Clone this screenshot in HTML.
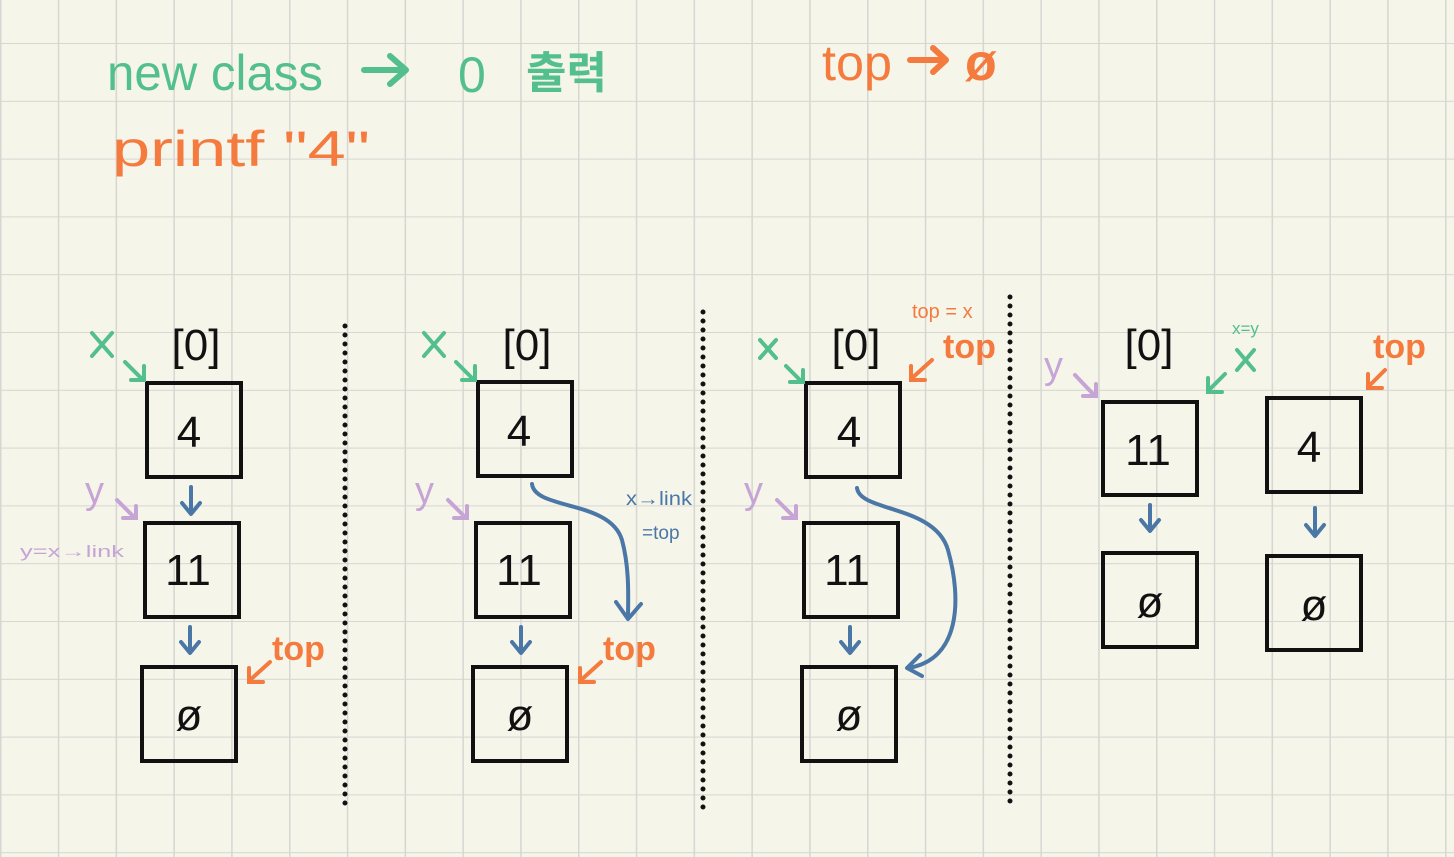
<!DOCTYPE html>
<html><head><meta charset="utf-8"><style>
html,body{margin:0;padding:0;background:#f6f5ea;}
svg{display:block}
text{font-family:"Liberation Sans","Noto Sans CJK KR",sans-serif;}
</style></head><body>
<svg width="1454" height="857" viewBox="0 0 1454 857" xmlns="http://www.w3.org/2000/svg">
<defs>
<pattern id="g" x="0" y="43" width="57.8" height="57.8" patternUnits="userSpaceOnUse">
<path d="M0 0H57.8M0 0V57.8" stroke="#d6d6d2" stroke-width="2" fill="none" transform="translate(0.5,0)"/>
</pattern>
</defs>
<rect width="1454" height="857" fill="#f6f5ea"/>
<rect x="0" y="0" width="1454" height="857" fill="url(#g)"/>

<!-- header -->
<text x="107" y="90" font-size="50" fill="#52bf8c" textLength="216" lengthAdjust="spacingAndGlyphs">new class</text>
<g fill="none" stroke="#52bf8c" stroke-width="6" stroke-linecap="round" stroke-linejoin="round"><path d="M364 70H404M390 56L406 70L390 84"/></g>
<text x="458" y="92" font-size="50" fill="#52bf8c">0</text>
<text x="526" y="88" font-size="44" fill="#52bf8c" font-weight="bold">출력</text>
<text x="112" y="166" font-size="50" fill="#f47a3e" textLength="258" lengthAdjust="spacingAndGlyphs">printf "4"</text>
<text x="822" y="80" font-size="50" fill="#f47a3e" textLength="70" lengthAdjust="spacingAndGlyphs">top</text>
<g fill="none" stroke="#f47a3e" stroke-width="6" stroke-linecap="round" stroke-linejoin="round"><path d="M910 60H945M933 48L946 60L933 72"/></g>
<text x="965" y="80" font-size="52" fill="#f47a3e" font-weight="bold">ø</text>

<!-- dotted separators -->
<g stroke="#111" stroke-width="5" stroke-linecap="round" stroke-dasharray="0 9">
<line x1="345" y1="326" x2="345" y2="808"/>
<line x1="703" y1="312" x2="703" y2="812"/>
<line x1="1010" y1="297" x2="1010" y2="808"/>
</g>

<g fill="none" stroke="#111" stroke-width="4">
<rect x="147" y="383" width="94" height="94"/>
<rect x="145" y="523" width="94" height="94"/>
<rect x="142" y="667" width="94" height="94"/>
<rect x="478" y="382" width="94" height="94"/>
<rect x="476" y="523" width="94" height="94"/>
<rect x="473" y="667" width="94" height="94"/>
<rect x="806" y="383" width="94" height="94"/>
<rect x="804" y="523" width="94" height="94"/>
<rect x="802" y="667" width="94" height="94"/>
<rect x="1103" y="402" width="94" height="93"/>
<rect x="1103" y="553" width="94" height="94"/>
<rect x="1267" y="398" width="94" height="94"/>
<rect x="1267" y="556" width="94" height="94"/>
</g>

<g font-size="44" fill="#111" text-anchor="middle">
<text x="196" y="360">[0]</text><text x="527" y="360">[0]</text><text x="856" y="360">[0]</text><text x="1149" y="360">[0]</text>
<text x="189" y="447">4</text><text x="519" y="446">4</text><text x="849" y="447">4</text><text x="1309" y="462">4</text>
<text x="188" y="585">11</text><text x="519" y="585">11</text><text x="847" y="585">11</text><text x="1148" y="465">11</text>
<text x="189" y="730">ø</text><text x="520" y="730">ø</text><text x="849" y="730">ø</text><text x="1150" y="617">ø</text><text x="1314" y="620">ø</text>
</g>

<!-- blue arrows -->
<g fill="none" stroke="#4a77a6" stroke-width="4" stroke-linecap="round" stroke-linejoin="round">
<path d="M191 487V513M182 503L191 514L200 503"/>
<path d="M190 627V652M181 642L190 653L199 642"/>
<path d="M521 627V652M512 642L521 653L530 642"/>
<path d="M850 627V652M841 642L850 653L859 642"/>
<path d="M1150 505V530M1141 520L1150 531L1159 520"/>
<path d="M1315 508V535M1306 525L1315 536L1324 525"/>
<path d="M532 484C535 510 610 500 622 540C630 570 628 600 628 618M616 602L628 619L641 604"/>
<path d="M857 488C860 512 935 505 948 550C962 600 960 660 908 668M920 655L907 668L922 676"/>
</g>

<!-- green x labels & arrows -->
<g fill="none" stroke="#52bf8c" stroke-width="4" stroke-linecap="round">
<path d="M92 333L112 356M112 333L92 356"/><path d="M125 362L143 380M131 380H144V366"/>
<path d="M424 333L444 356M444 333L424 356"/><path d="M456 362L474 380M462 380H475V366"/>
<path d="M760 340L776 358M776 340L760 358"/><path d="M786 366L802 382M790 382H803V370"/>
<path d="M1237 350L1254 370M1254 350L1237 370"/><path d="M1225 374L1208 391M1208 378V392H1222"/>
</g>
<text x="1232" y="334" font-size="17" fill="#52bf8c">x=y</text>

<!-- purple -->
<g fill="#c6a5d6" font-size="38"><text x="85" y="503">y</text><text x="415" y="503">y</text><text x="744" y="503">y</text><text x="1044" y="378">y</text></g>
<g fill="none" stroke="#c6a5d6" stroke-width="4" stroke-linecap="round">
<path d="M117 500L135 518M123 518H136V506"/>
<path d="M448 500L466 518M454 518H467V506"/>
<path d="M777 500L795 518M783 518H796V506"/>
<path d="M1075 375L1095 396M1083 396H1096V384"/>
</g>
<text x="20" y="557" font-size="17" fill="#c6a5d6" textLength="104" lengthAdjust="spacingAndGlyphs">y=x→link</text>

<!-- orange top -->
<g fill="#f47a3e" font-size="34" font-weight="bold"><text x="272" y="660">top</text><text x="603" y="660">top</text><text x="943" y="358">top</text><text x="1373" y="358">top</text></g>
<text x="912" y="318" font-size="20" fill="#f47a3e">top = x</text>
<g fill="none" stroke="#f47a3e" stroke-width="4" stroke-linecap="round">
<path d="M270 662L249 681M249 668V682H263"/>
<path d="M601 662L580 681M580 668V682H594"/>
<path d="M932 360L911 379M911 366V380H925"/>
<path d="M1385 370L1368 387M1368 374V388H1382"/>
</g>

<!-- blue note -->
<text x="626" y="505" font-size="19" fill="#4a77a6" textLength="66" lengthAdjust="spacingAndGlyphs">x→link</text>
<text x="642" y="539" font-size="19" fill="#4a77a6">=top</text>
</svg>
</body></html>
